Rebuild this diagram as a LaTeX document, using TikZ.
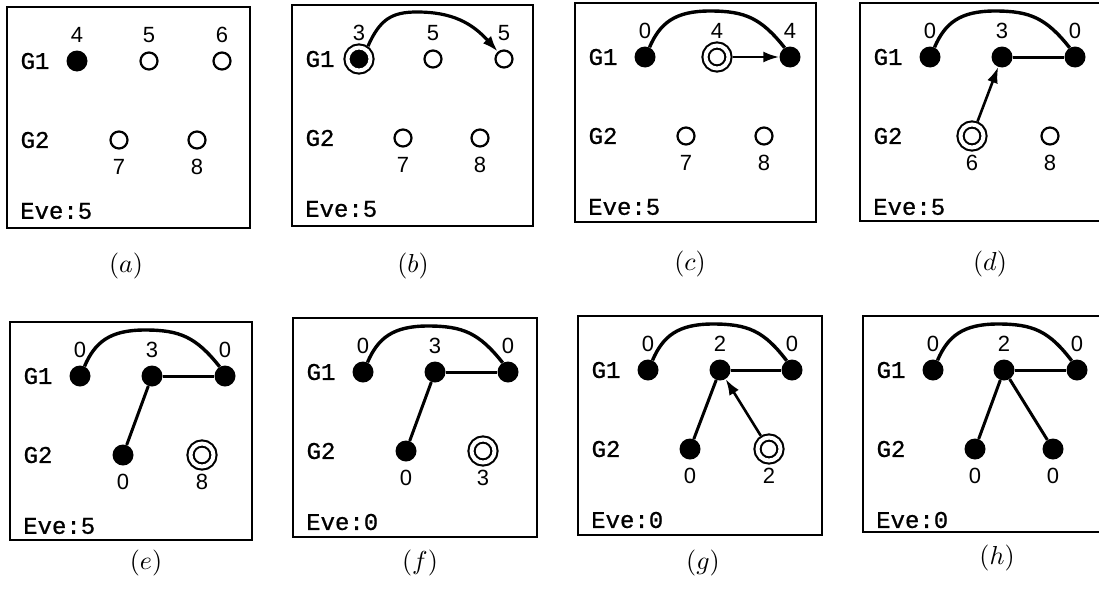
\documentclass[tikz,border=0pt]{standalone}
\usepackage{fontspec}
\newfontfamily\monof[FakeBold=0.8]{Liberation Mono}
\newfontfamily\numf{Liberation Sans}
\usetikzlibrary{arrows.meta}

\tikzset{
  frame/.style={draw, line width=2.1pt},
  fnode/.style={circle, fill=black, inner sep=0pt, minimum size=21pt},
  onode/.style={circle, draw, line width=2.2pt, inner sep=0pt, minimum size=17pt},
  rnode/.style={circle, draw, double, double distance=4pt, line width=2.1pt,
    inner sep=0pt, minimum size=23pt, outer sep=4.1pt},
  rfnode/.style={rnode, fill=black},
  grp/.style={font=\monof\fontsize{24}{24}\selectfont, inner sep=0pt},
  eve/.style={font=\monof\fontsize{24}{24}\selectfont, inner sep=0pt, anchor=west},
  num/.style={font=\numf\fontsize{22}{22}\selectfont, inner sep=0pt},
  capt/.style={inner sep=0pt},
  link/.style={line width=3pt},
  hill/.style={line width=3.4pt},
  arr/.style={line width=2.6pt, -{Latex[length=16pt,width=11pt]}},
}

% frame of one board: #1 prefix, #2 width, #3 height, #4 value of Eve
\newcommand\board[4]{%
  \draw[frame] (0,0) rectangle (#2,#3);
  \node[grp] (#1gA) at (28,54) {G1};
  \node[grp] (#1gB) at (28,133) {G2};
  \node[eve] (#1ev) at (13,204) {Eve:#4};
}
% the curved link between the outer nodes of row G1
\newcommand\hillpath[2]{%
  \draw[hill] (#1.65) .. controls (85,20) and (100,8) .. (135,8)
    .. controls (170,8) and (186,15) .. (#2.120);
}
% sub-figure caption
\newcommand\subcap[1]{\scalebox{2.6}{$(#1)$}}

\begin{document}
\begin{tikzpicture}[x=1pt,y=-1pt]
\useasboundingbox (0,0) rectangle (1099,589);
\clip (0,0) rectangle (1099,589);

% ---------------- (a)
\begin{scope}[shift={(7,7)}]
  \board{a}{243}{221}{5}
  \node[fnode] (a1) at (70,54) {};
  \node[onode] (a2) at (142,54) {};
  \node[onode] (a3) at (215,54) {};
  \node[onode] (a4) at (112,133) {};
  \node[onode] (a5) at (190,133) {};
  \node[num] (a1v) at (70,28) {4};
  \node[num] (a2v) at (142,28) {5};
  \node[num] (a3v) at (215,28) {6};
  \node[num] (a4v) at (112,160) {7};
  \node[num] (a5v) at (190,160) {8};
  \node[capt] (acap) at (119,259) {\subcap{a}};
\end{scope}

% ---------------- (b)
\begin{scope}[shift={(292,5)}]
  \board{b}{241}{221}{5}
  \node[rfnode] (b1) at (67,54) {};
  \node[onode] (b2) at (141,54) {};
  \node[onode] (b3) at (212,54) {};
  \node[onode] (b4) at (111,133) {};
  \node[onode] (b5) at (188,133) {};
  \node[num] (b1v) at (67,28) {3};
  \node[num] (b2v) at (141,28) {5};
  \node[num] (b3v) at (212,28) {5};
  \node[num] (b4v) at (111,160) {7};
  \node[num] (b5v) at (188,160) {8};
  \draw[arr, line width=3.2pt] (b1.55) .. controls (88,14) and (100,7) .. (125,7)
    .. controls (160,7) and (180,18) .. (b3.130);
  \node[capt] (bcap) at (121,261) {\subcap{b}};
\end{scope}

% ---------------- (c)
\begin{scope}[shift={(575,3)}]
  \board{c}{241}{219}{5}
  \node[fnode] (c1) at (70,54) {};
  \node[rnode] (c2) at (142,54) {};
  \node[fnode] (c3) at (215,54) {};
  \node[onode] (c4) at (111,133) {};
  \node[onode] (c5) at (189,133) {};
  \node[num] (c1v) at (70,28) {0};
  \node[num] (c2v) at (142,28) {4};
  \node[num] (c3v) at (215,28) {4};
  \node[num] (c4v) at (111,160) {7};
  \node[num] (c5v) at (189,160) {8};
  \hillpath{c1}{c3}
  \draw[arr] (c2) -- (c3);
  \node[capt] (ccap) at (115,261) {\subcap{c}};
\end{scope}

% ---------------- (d)
\begin{scope}[shift={(860,3)}]
  \board{d}{242}{218}{5}
  \node[fnode] (d1) at (70,54) {};
  \node[fnode] (d2) at (142,54) {};
  \node[fnode] (d3) at (215,54) {};
  \node[rnode] (d4) at (112,133) {};
  \node[onode] (d5) at (190,133) {};
  \node[num] (d1v) at (70,28) {0};
  \node[num] (d2v) at (142,28) {3};
  \node[num] (d3v) at (215,28) {0};
  \node[num] (d4v) at (112,160) {6};
  \node[num] (d5v) at (190,160) {8};
  \hillpath{d1}{d3}
  \draw[link] (d2) -- (d3);
  \draw[arr] (d4) -- (d2);
  \node[capt] (dcap) at (130,261) {\subcap{d}};
\end{scope}

% ---------------- (e)
\begin{scope}[shift={(10,322)}]
  \board{e}{242}{218}{5}
  \node[fnode] (e1) at (70,54) {};
  \node[fnode] (e2) at (142,54) {};
  \node[fnode] (e3) at (215,54) {};
  \node[fnode] (e4) at (113,133) {};
  \node[rnode] (e5) at (192,133) {};
  \node[num] (e1v) at (70,28) {0};
  \node[num] (e2v) at (142,28) {3};
  \node[num] (e3v) at (215,28) {0};
  \node[num] (e4v) at (113,160) {0};
  \node[num] (e5v) at (192,160) {8};
  \hillpath{e1}{e3}
  \draw[link] (e2) -- (e3);
  \draw[link] (e2) -- (e4);
  \node[capt] (ecap) at (136,241) {\subcap{e}};
\end{scope}

% ---------------- (f)
\begin{scope}[shift={(293,318)}]
  \board{f}{244}{219}{0}
  \node[fnode] (f1) at (70,54) {};
  \node[fnode] (f2) at (142,54) {};
  \node[fnode] (f3) at (215,54) {};
  \node[fnode] (f4) at (113,133) {};
  \node[rnode] (f5) at (190,133) {};
  \node[num] (f1v) at (70,28) {0};
  \node[num] (f2v) at (142,28) {3};
  \node[num] (f3v) at (215,28) {0};
  \node[num] (f4v) at (113,160) {0};
  \node[num] (f5v) at (190,160) {3};
  \hillpath{f1}{f3}
  \draw[link] (f2) -- (f3);
  \draw[link] (f2) -- (f4);
  \node[capt] (fcap) at (127,245) {\subcap{f}};
\end{scope}

% ---------------- (g)
\begin{scope}[shift={(578,316)}]
  \board{g}{244}{219}{0}
  \node[fnode] (g1) at (70,54) {};
  \node[fnode] (g2) at (142,54) {};
  \node[fnode] (g3) at (214,54) {};
  \node[fnode] (g4) at (112,133) {};
  \node[rnode] (g5) at (191,133) {};
  \node[num] (g1v) at (70,28) {0};
  \node[num] (g2v) at (142,28) {2};
  \node[num] (g3v) at (214,28) {0};
  \node[num] (g4v) at (112,160) {0};
  \node[num] (g5v) at (191,160) {2};
  \hillpath{g1}{g3}
  \draw[link] (g2) -- (g3);
  \draw[link] (g2) -- (g4);
  \draw[arr] (g5) -- (g2);
  \node[capt] (gcap) at (125,247) {\subcap{g}};
\end{scope}

% ---------------- (h)
\begin{scope}[shift={(863,316)}]
  \board{h}{242}{216}{0}
  \node[fnode] (h1) at (70,54) {};
  \node[fnode] (h2) at (141,54) {};
  \node[fnode] (h3) at (214,54) {};
  \node[fnode] (h4) at (112,133) {};
  \node[fnode] (h5) at (190,133) {};
  \node[num] (h1v) at (70,28) {0};
  \node[num] (h2v) at (141,28) {2};
  \node[num] (h3v) at (214,28) {0};
  \node[num] (h4v) at (112,160) {0};
  \node[num] (h5v) at (190,160) {0};
  \hillpath{h1}{h3}
  \draw[link] (h2) -- (h3);
  \draw[link] (h2) -- (h4);
  \draw[link] (h2) -- (h5);
  \node[capt] (hcap) at (134,242) {\subcap{h}};
\end{scope}
\end{tikzpicture}
\end{document}
